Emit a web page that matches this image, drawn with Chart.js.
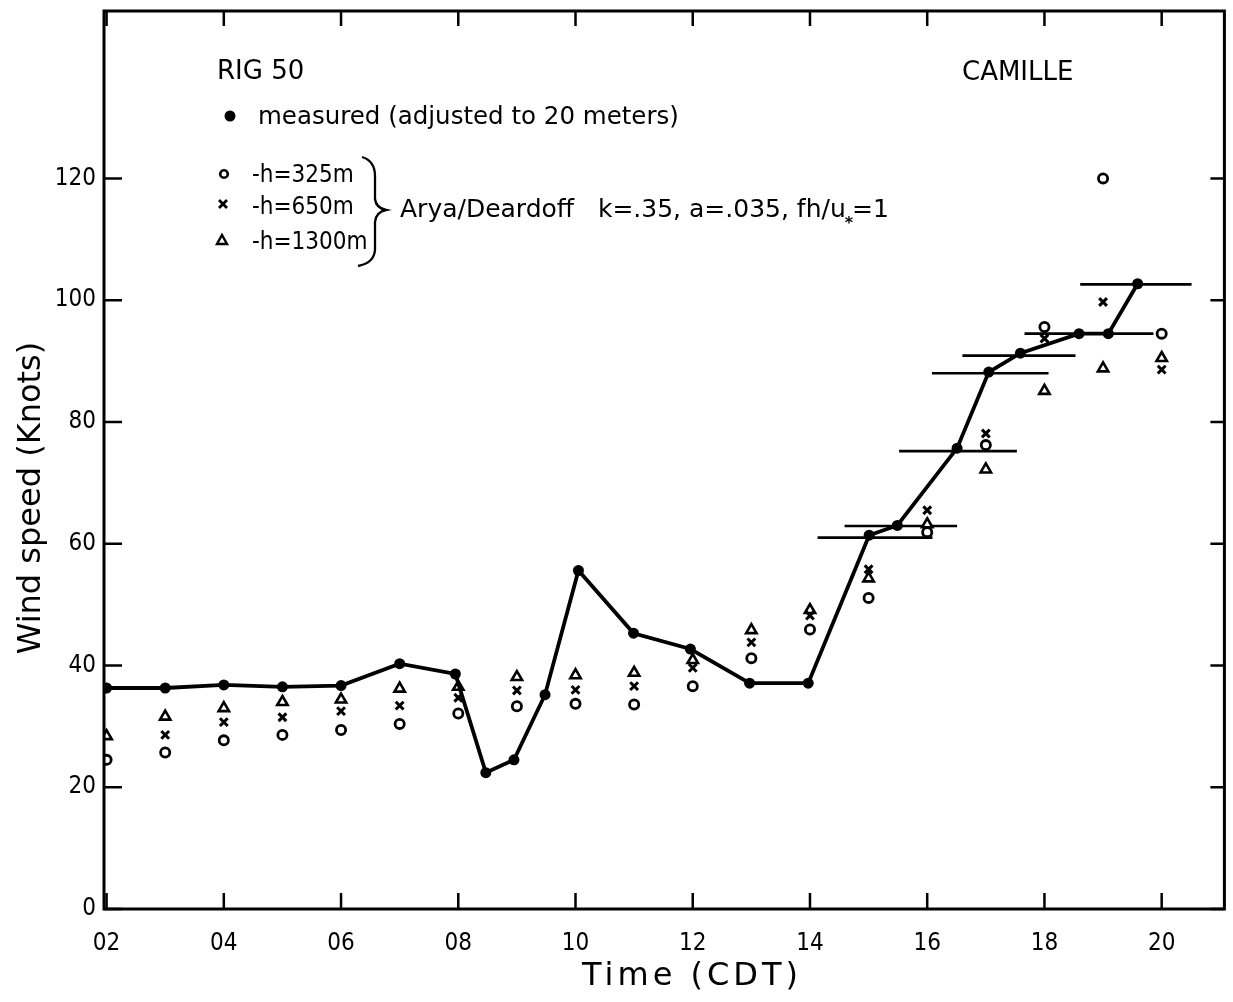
<!DOCTYPE html>
<html><head><meta charset="utf-8">
<script src="https://cdn.jsdelivr.net/npm/chart.js@4.4.0/dist/chart.umd.min.js"></script>
<style>html,body{margin:0;padding:0;background:#fff;overflow:hidden;}#wrap{width:1233px;height:1002px;position:relative;}#c{display:block;width:1233px;height:1002px;}</style>
</head><body><div id="wrap"><canvas id="c" width="1233" height="1002"></canvas></div>
<script>
// ---- data ----
const measuredHours = [2, 3, 4, 5, 6, 7, 7.95, 8.47, 8.95, 9.48, 10.05, 10.99, 11.96, 12.97, 13.97, 15.01, 15.49, 16.51, 17.05, 17.59, 18.59, 19.09, 19.59];
const measuredSpeed = [36.3, 36.3, 36.8, 36.5, 36.7, 40.3, 38.6, 22.4, 24.5, 35.2, 55.6, 45.3, 42.7, 37.1, 37.1, 61.4, 63.0, 75.7, 88.2, 91.3, 94.5, 94.5, 102.7];

const modelHours = [2, 3, 4, 5, 6, 7, 8, 9, 10, 11, 12, 13, 14, 15, 16, 17, 18, 19, 20];
const h325  = [24.5, 25.7, 27.7, 28.6, 29.4, 30.4, 32.1, 33.3, 33.7, 33.6, 36.6, 41.2, 45.9, 51.1, 61.9, 76.2, 95.6, 120.0, 94.5];
const h650  = [null, 28.6, 30.7, 31.5, 32.5, 33.4, 34.7, 35.9, 36.0, 36.6, 39.6, 43.8, 48.2, 55.8, 65.5, 78.1, 93.7, 99.7, 88.6];
const h1300 = [28.4, 31.6, 33.0, 34.0, 34.4, 36.2, 36.5, 38.1, 38.4, 38.8, 40.9, 45.8, 49.1, 54.3, 63.2, 72.2, 85.1, 88.8, 90.5];

// horizontal averaging bars
const barStart = [14.13, 14.59, 15.52, 16.08, 16.60, 17.66, 18.61];
const barEnd   = [16.09, 16.51, 17.53, 18.07, 18.53, 19.86, 20.51];
const barValue = [61.0, 62.9, 75.2, 88.0, 90.9, 94.5, 102.6];

const xTickValues = [2, 4, 6, 8, 10, 12, 14, 16, 18, 20];
const xTickLabels = ['02', '04', '06', '08', '10', '12', '14', '16', '18', '20'];
const yTickValues = [0, 20, 40, 60, 80, 100, 120];
const yTickLabels = ['0', '20', '40', '60', '80', '100', '120'];

// ---- chart ----
const TICK_FONT = "'Liberation Sans Narrow','DejaVu Sans Condensed','DejaVu Sans',sans-serif";
const TXT_FONT = "'DejaVu Sans',sans-serif";
const TXT_COND = "'DejaVu Sans Condensed','DejaVu Sans',sans-serif";

const pts = (xs, ys) => xs.map((x, i) => ({x: x, y: ys[i]})).filter(p => p.y !== null);

const datasets = [];
barValue.forEach((v, i) => {
  datasets.push({
    data: [{x: barStart[i], y: v}, {x: barEnd[i], y: v}],
    showLine: true, borderColor: '#000', borderWidth: 2.6, pointRadius: 0, order: 5
  });
});
datasets.push({
  label: 'h=325m', data: pts(modelHours, h325), pointStyle: 'circle',
  pointRadius: 4.6, pointBackgroundColor: '#fff', pointBorderColor: '#000', pointBorderWidth: 2.8, showLine: false, order: 4
});
datasets.push({
  label: 'h=650m', data: pts(modelHours, h650), pointStyle: 'crossRot',
  pointRadius: 5.5, pointBorderColor: '#000', pointBorderWidth: 3, showLine: false, order: 4
});
datasets.push({
  label: 'h=1300m', data: pts(modelHours, h1300), pointStyle: 'triangle',
  pointRadius: 6, pointBackgroundColor: '#fff', pointBorderColor: '#000', pointBorderWidth: 2.6, showLine: false, order: 4
});
datasets.push({
  label: 'measured', data: pts(measuredHours, measuredSpeed), showLine: true,
  borderColor: '#000', borderWidth: 3.8, pointRadius: 5.5, pointBackgroundColor: '#000', pointBorderColor: '#000', pointBorderWidth: 0, order: 1
});

const framePlugin = {
  id: 'frame',
  afterDraw(chart) {
    const ctx = chart.ctx, a = chart.chartArea;
    const xs = chart.scales.x, ys = chart.scales.y;
    ctx.save();
    ctx.strokeStyle = '#000';
    ctx.lineWidth = 3;
    ctx.strokeRect(a.left, a.top, a.right - a.left, a.bottom - a.top);
    ctx.lineWidth = 2.5;
    ctx.beginPath();
    xTickValues.forEach(v => {
      const px = xs.getPixelForValue(v);
      ctx.moveTo(px, a.bottom); ctx.lineTo(px, a.bottom - 16);
      ctx.moveTo(px, a.top); ctx.lineTo(px, a.top + 15);
    });
    yTickValues.forEach(v => {
      const py = ys.getPixelForValue(v);
      ctx.moveTo(a.left, py); ctx.lineTo(a.left + 18, py);
      ctx.moveTo(a.right, py); ctx.lineTo(a.right - 14, py);
    });
    ctx.stroke();

    // annotations
    ctx.fillStyle = '#000';
    ctx.textBaseline = 'alphabetic';
    ctx.font = "26px " + TXT_FONT;
    ctx.fillText('RIG 50', 217, 79);
    ctx.fillText('CAMILLE', 962, 80);

    // legend
    ctx.beginPath(); ctx.arc(230, 116, 5.5, 0, Math.PI * 2); ctx.fill();
    ctx.font = "24.5px " + TXT_FONT;
    ctx.fillText('measured (adjusted to 20 meters)', 258, 124);

    ctx.font = "24px " + TXT_COND;
    ctx.fillText('-h=325m', 252, 182);
    ctx.fillText('-h=650m', 252, 214);
    ctx.fillText('-h=1300m', 252, 249);
    // legend markers
    ctx.lineWidth = 2.6;
    ctx.beginPath(); ctx.arc(224, 174, 3.8, 0, Math.PI * 2); ctx.stroke();
    ctx.lineWidth = 2.8;
    ctx.beginPath();
    ctx.moveTo(219, 200); ctx.lineTo(227, 208); ctx.moveTo(227, 200); ctx.lineTo(219, 208);
    ctx.stroke();
    ctx.lineWidth = 2.4;
    ctx.beginPath();
    ctx.moveTo(222, 235); ctx.lineTo(227, 244); ctx.lineTo(217, 244); ctx.closePath(); ctx.stroke();

    // brace
    ctx.lineWidth = 2.3;
    ctx.beginPath();
    ctx.moveTo(362, 157);
    ctx.quadraticCurveTo(375, 161, 375, 176);
    ctx.lineTo(375, 199);
    ctx.quadraticCurveTo(376, 208, 386, 210);
    ctx.quadraticCurveTo(376, 212, 375, 222);
    ctx.lineTo(375, 250);
    ctx.quadraticCurveTo(374, 263, 358, 266);
    ctx.stroke();

    ctx.font = "25px " + TXT_FONT;
    const main = 'Arya/Deardoff   k=.35, a=.035, fh/u';
    ctx.fillText(main, 400, 217);
    const w = ctx.measureText(main).width;
    ctx.font = "bold 16px " + TXT_FONT;
    ctx.fillText('*', 400 + w - 1, 228);
    const w2 = ctx.measureText('*').width;
    ctx.font = "25px " + TXT_FONT;
    ctx.fillText('=1', 400 + w - 1 + w2 - 1, 217);

    // axis titles
    ctx.font = "32px " + TXT_FONT;
    ctx.textAlign = 'center';
    try { ctx.letterSpacing = '4px'; } catch (e) {}
    ctx.fillText('Time (CDT)', 692, 985);
    try { ctx.letterSpacing = '0px'; } catch (e) {}
    ctx.save();
    ctx.translate(40, 498);
    ctx.rotate(-Math.PI / 2);
    ctx.font = "32px " + TXT_FONT;
    ctx.fillText('Wind speed (Knots)', 0, 0);
    ctx.restore();
    ctx.restore();
  }
};

new Chart(document.getElementById('c'), {
  type: 'scatter',
  data: {datasets: datasets},
  options: {
    responsive: false, animation: false, devicePixelRatio: 1,
    layout: {padding: {top: 11, right: 0, left: 0, bottom: 0}},
    plugins: {legend: {display: false}, tooltip: {enabled: false}},
    scales: {
      x: {
        type: 'linear', position: 'bottom', min: 1.956, max: 21.07,
        grid: {display: false, drawTicks: false}, border: {display: false},
        afterBuildTicks: s => { s.ticks = xTickValues.map(v => ({value: v})); },
        afterFit: s => { s.height = 93; s.paddingLeft = 0; s.paddingRight = 0; },
        ticks: {
          color: '#000', padding: 20, maxRotation: 0, autoSkip: false,
          font: {family: TICK_FONT, size: 24},
          callback: v => xTickLabels[xTickValues.indexOf(v)]
        }
      },
      y: {
        type: 'linear', min: 0, max: 147.5,
        grid: {display: false, drawTicks: false}, border: {display: false},
        afterBuildTicks: s => { s.ticks = yTickValues.map(v => ({value: v})); },
        afterFit: s => { s.width = 104; s.paddingTop = 0; s.paddingBottom = 0; },
        ticks: {
          color: '#000', padding: 8, autoSkip: false,
          font: {family: TICK_FONT, size: 24},
          callback: v => yTickLabels[yTickValues.indexOf(v)]
        }
      }
    }
  },
  plugins: [framePlugin]
});
</script>
</body></html>
